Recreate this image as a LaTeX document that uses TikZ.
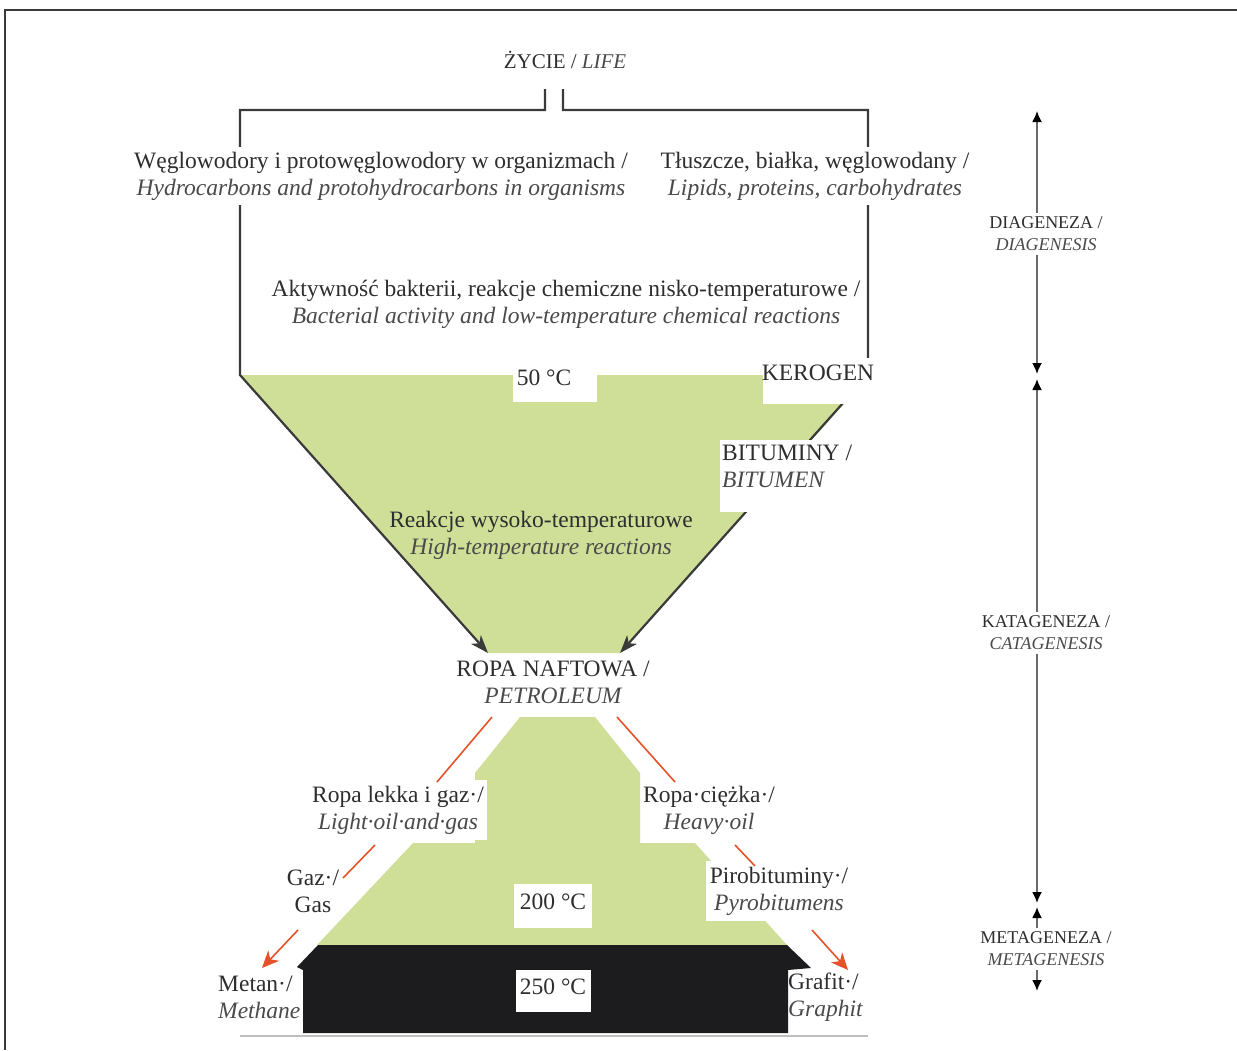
\documentclass[tikz,border=0pt]{standalone}
\usepackage{fontspec}
\setmainfont{Liberation Serif}
\usetikzlibrary{arrows.meta}

\definecolor{ink}{HTML}{2E2E2E}
\definecolor{inkit}{HTML}{4A4A4A}
\definecolor{leaf}{HTML}{CFDF98}
\definecolor{coal}{HTML}{1C1C1E}
\definecolor{flame}{HTML}{E5522A}
\definecolor{wirec}{HTML}{3A3A3A}
\definecolor{stagec}{HTML}{6A6A6A}

\newcommand\engl[1]{{\color{inkit}\itshape #1}}

\begin{document}
\begin{tikzpicture}[x=1pt,y=-1pt,
  txt/.style={text=ink, align=center, font=\fontsize{23.5}{27}\selectfont, inner sep=2pt},
  stagetxt/.style={text=ink, align=center, font=\fontsize{18}{22}\selectfont, fill=white, inner xsep=2pt, inner ysep=4pt},
  mask/.style={fill=white},
  wire/.style={draw=wirec, line width=2.2pt},
  flow/.style={draw=flame, line width=1.6pt},
  headB/.style={-{Stealth[length=18pt,width=13pt,inset=5pt]}},
  headO/.style={-{Stealth[length=17pt,width=15pt,inset=5pt,fill=flame]}},
  stage/.style={draw=stagec, line width=1.8pt, {Latex[length=11pt,width=10pt,black]}-{Latex[length=11pt,width=10pt,black]}}
]
\useasboundingbox (0,0) rectangle (1237,1050);

% outer frame (top and left edges)
\draw[wirec, line width=1.2pt] (1237,10) -- (5,10) -- (5,1050);

% green funnel and lower green pyramid
\fill[leaf] (240,375) -- (870,375) -- (620,653) -- (488,653) -- cycle;
\fill[leaf] (520,717) -- (595,717) -- (640,773) -- (640,843) -- (695,843)
  -- (787,945) -- (317,945) -- (413,843) -- (475,843) -- (475,773) -- cycle;

% origin of life
\node[txt, font=\fontsize{21}{25}\selectfont] (life) at (565,60) {ŻYCIE / \engl{LIFE}};
\coordinate (stemL) at (545,89);
\coordinate (stemR) at (563,89);
\coordinate (inL) at (488,653);
\coordinate (inR) at (620,653);

% bracket and funnel walls
\draw[wire, headB] (stemL) -- (545,110) -- (240,110) -- (240,375) -- (inL);
\draw[wire, headB] (stemR) -- (563,110) -- (868,110) -- (868,375) -- (inR);

% upper labels
\node[txt, fill=white, inner ysep=5pt] (hydro) at (381,176)
  {Węglowodory i protowęglowodory w organizmach /\\\engl{Hydrocarbons and protohydrocarbons in organisms}};
\node[txt, fill=white, inner ysep=5pt] (lipids) at (815,176)
  {Tłuszcze, białka, węglowodany /\\\engl{Lipids, proteins, carbohydrates}};
\node[txt] (bact) at (566,304)
  {Aktywność bakterii, reakcje chemiczne nisko-temperaturowe /\\\engl{Bacterial activity and low-temperature chemical reactions}};

% labels on the funnel
\fill[mask] (513,365) rectangle (597,402);
\node[txt] (t50) at (544,378) {50 °C};
\fill[mask] (763,358) rectangle (874,404);
\node[txt] (kerogen) at (818,373) {KEROGEN};
\fill[mask] (720,440) rectangle (856,512);
\node[txt, align=left, anchor=north west] (bitumen) at (720,443) {BITUMINY /\\\engl{BITUMEN}};
\node[txt] (hightemp) at (541,535) {Reakcje wysoko-temperaturowe\\\engl{High-temperature reactions}};

% petroleum and its products
\node[txt] (petrol) at (553,682) {ROPA NAFTOWA /\\\engl{PETROLEUM}};
\node[txt, fill=white, inner xsep=3pt, inner ysep=6pt] (light) at (398,810) {Ropa lekka i gaz·/\\\engl{Light·oil·and·gas}};
\node[txt] (heavy) at (709,810) {Ropa·ciężka·/\\\engl{Heavy·oil}};
\node[txt] (gas) at (313,891) {Gaz·/\\Gas};
\node[txt, fill=white, inner xsep=4pt, inner ysep=6pt] (pyro) at (779,891) {Pirobituminy·/\\\engl{Pyrobitumens}};
\fill[mask] (514,884) rectangle (592,928);
\node[txt] (t200) at (553,902) {200 °C};

% end members and the black base
\node[txt, align=left, anchor=west] (methane) at (216,997) {Metan·/\\\engl{Methane}};
\node[txt, align=left, anchor=west] (graphite) at (786,997) {Grafit·/\\\engl{Graphit}};
\fill[coal] (318,945) -- (787,945) -- (811,968) -- (788,970) -- (788,1033)
  -- (303,1033) -- (303,970) -- (297,967) -- cycle;
\fill[mask] (516,970) rectangle (591,1012);
\node[txt] (t250) at (553,987) {250 °C};
\draw[black!25, line width=1.5pt] (240,1036) -- (868,1036);

% transformation paths
\coordinate (o1a) at (492,717); \coordinate (o1b) at (437,782);
\coordinate (o2a) at (375,845); \coordinate (o2b) at (343,878);
\coordinate (o3a) at (298,930); \coordinate (o3b) at (262,968);
\coordinate (o4a) at (617,717); \coordinate (o4b) at (675,782);
\coordinate (o5a) at (735,845); \coordinate (o5b) at (755,866);
\coordinate (o6a) at (812,930); \coordinate (o6b) at (848,970);
\draw[flow] (o1a) -- (o1b);
\draw[flow] (o2a) -- (o2b);
\draw[flow, headO] (o3a) -- (o3b);
\draw[flow] (o4a) -- (o4b);
\draw[flow] (o5a) -- (o5b);
\draw[flow, headO] (o6a) -- (o6b);

% stages of burial
\coordinate (sTop) at (1037,111);
\coordinate (sD) at (1037,374);
\coordinate (sK) at (1037,379);
\coordinate (sKe) at (1037,903);
\coordinate (sM) at (1037,907);
\coordinate (sEnd) at (1037,991);
\draw[stage] (sTop) -- (sD);
\draw[stage] (sK) -- (sKe);
\draw[stage] (sM) -- (sEnd);
\node[stagetxt] (diag) at (1046,234) {DIAGENEZA /\\\engl{DIAGENESIS}};
\node[stagetxt] (kata) at (1046,633) {KATAGENEZA /\\\engl{CATAGENESIS}};
\node[stagetxt] (meta) at (1046,949) {METAGENEZA /\\\engl{METAGENESIS}};
\end{tikzpicture}
\end{document}
